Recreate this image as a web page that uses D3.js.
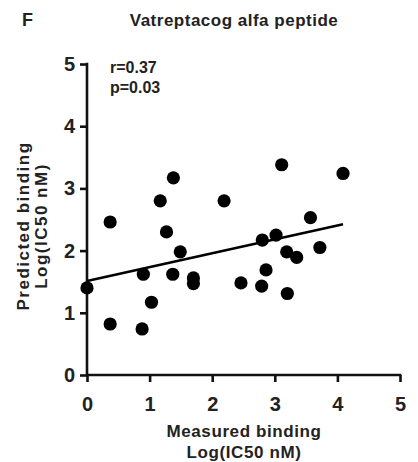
<!DOCTYPE html>
<html>
<head>
<meta charset="utf-8">
<script src="https://cdn.jsdelivr.net/npm/d3@7"></script>
<style>
  body { margin: 0; background: #fff; }
  text { font-family: "Liberation Sans", Arial, sans-serif; font-weight: bold; fill: #222; }
</style>
</head>
<body>
<svg width="418" height="462"></svg>
<script>
// measured vs predicted binding, Log(IC50 nM)
const measured = [0.00, 0.37, 0.37, 0.88, 0.90, 1.03, 1.17, 1.27, 1.38, 1.37, 1.49, 1.70, 1.70,
    2.19, 2.46, 2.79, 2.80, 2.86, 3.02, 3.11, 3.19, 3.20, 3.35, 3.57, 3.72, 4.09]
const predicted = [1.40, 0.82, 2.46, 0.74, 1.62, 1.17, 2.80, 2.30, 3.17, 1.62, 1.98, 1.56, 1.47,
    2.80, 1.48, 1.43, 2.17, 1.69, 2.25, 3.38, 1.98, 1.31, 1.89, 2.53, 2.05, 3.24]
// fitted line as drawn in the figure
const fit_intercept = 1.51,
    fit_slope = 0.223
const ticks = [0, 1, 2, 3, 4, 5]
const stats_lines = ['r=0.37', 'p=0.03']

const svg = d3.select('svg')

const x = d3.scaleLinear().domain([0, 5]).range([87, 400]),
    y = d3.scaleLinear().domain([0, 5]).range([375, 64])

const axis_w = 2.6

// axes
const xAxis = svg.append('g')
    .attr('transform', 'translate(0,' + y(0) + ')')
    .call(d3.axisBottom(x).tickValues(ticks).tickSize(7).tickPadding(8).tickFormat(d3.format('d')))
const yAxis = svg.append('g')
    .attr('transform', 'translate(' + x(0) + ',0)')
    .call(d3.axisLeft(y).tickValues(ticks).tickSize(7).tickPadding(5).tickFormat(d3.format('d')))

;[xAxis, yAxis].forEach(function (g) {
    g.select('.domain').remove()
    g.selectAll('.tick line').style('stroke', '#111').style('stroke-width', axis_w)
    g.selectAll('.tick text')
        .style('font-size', '20px')
        .style('font-family', '"Liberation Sans", Arial, sans-serif')
        .style('font-weight', 'bold')
        .style('fill', '#222')
})
xAxis.selectAll('.tick text').attr('dy', '1.05em')

// axis lines
svg.append('line')
    .attr('x1', x(0)).attr('x2', x(5) + axis_w / 2)
    .attr('y1', y(0)).attr('y2', y(0))
    .style('stroke', '#111').style('stroke-width', axis_w)
svg.append('line')
    .attr('x1', x(0)).attr('x2', x(0))
    .attr('y1', y(0) + axis_w / 2).attr('y2', y(5) - axis_w / 2)
    .style('stroke', '#111').style('stroke-width', axis_w)

// regression line
const xmax = d3.max(measured)
svg.append('line')
    .attr('x1', x(0)).attr('y1', y(fit_intercept))
    .attr('x2', x(xmax)).attr('y2', y(fit_intercept + fit_slope * xmax))
    .style('stroke', '#000').style('stroke-width', 2.6)

// points
svg.selectAll('.dot')
    .data(measured.map((m, i) => ({ m: m, p: predicted[i] })))
    .enter().append('circle')
    .attr('cx', (d) => x(d.m))
    .attr('cy', (d) => y(d.p))
    .attr('r', 6.6)
    .style('fill', '#000')

// text
svg.append('text').attr('x', 22).attr('y', 26).style('font-size', '18px').text('F')

svg.append('text')
    .attr('x', 234).attr('y', 26)
    .attr('text-anchor', 'middle')
    .style('font-size', '17px').style('letter-spacing', '0.5px')
    .text('Vatreptacog alfa peptide')

svg.selectAll('.stats')
    .data(stats_lines)
    .enter().append('text')
    .attr('x', 110)
    .attr('y', (d, i) => 73 + i * 20)
    .style('font-size', '16px')
    .text((d) => d)

svg.selectAll('.xlab')
    .data(['Measured binding', 'Log(IC50 nM)'])
    .enter().append('text')
    .attr('x', 244)
    .attr('y', (d, i) => 437 + i * 21)
    .attr('text-anchor', 'middle')
    .style('font-size', '17px').style('letter-spacing', '0.6px')
    .text((d) => d)

svg.selectAll('.ylab')
    .data(['Predicted binding', 'Log(IC50 nM)'])
    .enter().append('text')
    .attr('transform', (d, i) => 'translate(' + (29 + i * 18) + ',226)rotate(-90)')
    .attr('text-anchor', 'middle')
    .style('font-size', '17px').style('letter-spacing', '1.5px')
    .text((d) => d)
</script>
</body>
</html>
